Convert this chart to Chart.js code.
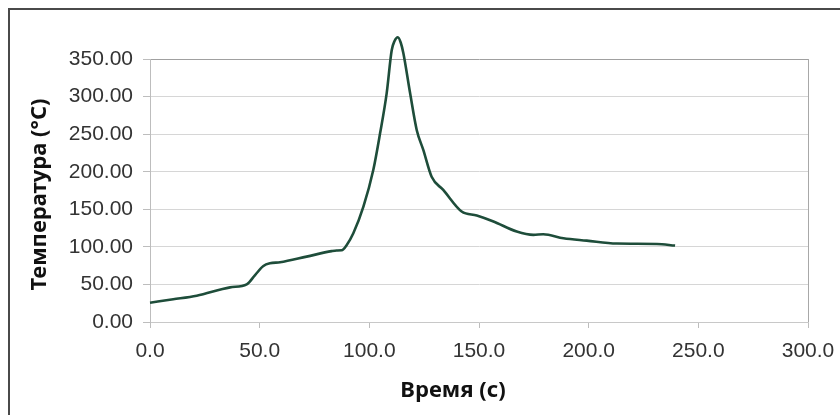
<!DOCTYPE html>
<html>
<head>
<meta charset="utf-8">
<script src="https://cdn.jsdelivr.net/npm/chart.js@4"></script>
<style>
  html, body { margin: 0; padding: 0; background: #fff; }
  #wrap { position: relative; width: 840px; height: 415px; overflow: hidden; }
  #frame {
    position: absolute; left: 8px; top: 8px; right: -10px; bottom: -10px;
    border-left: 2px solid #4a4a4a; border-top: 2px solid #4a4a4a;
    pointer-events: none;
  }
</style>
</head>
<body>
<div id="wrap">
  <canvas id="tempChart" width="840" height="415"></canvas>
  <div id="frame"></div>
</div>
<script>
// --- Data ---
const timeValues = [
  0, 10.6, 21.3, 36.5, 44.1, 47.9, 51.7, 54.7, 59.3, 71.4, 82.8, 85.1, 87.4,
  89.7, 92.7, 97.3, 101.8, 104.9, 107.9, 110.2, 111.5, 113.0, 114.3, 115.5,
  118.6, 121.6, 124.6, 128.4, 133.7, 142.1, 149.0, 156.6, 167.2, 174.8,
  179.3, 188.5, 199.1, 212.8, 231.1, 239.4
];
const tempValues = [
  25.7, 30.2, 35.0, 46.1, 50.1, 62.5, 74.5, 78.1, 79.4, 87.0, 94.3, 95.2, 95.4,
  102.5, 118.1, 153.5, 202.3, 251.1, 304.3, 361.6, 374, 379, 372, 358,
  304.3, 255.6, 229, 193.3, 175.7, 147, 141.7, 133.7, 120.4, 116,
  116.8, 111.5, 108.3, 104.4, 103.9, 101.7
];
const xTicks = [0, 50, 100, 150, 200, 250, 300];
const yTicks = [0, 50, 100, 150, 200, 250, 300, 350];

const xTitle = "Время (с)";
const yTitle = "Температура (°C)";

const TICK_FONT = { family: "'Liberation Sans', Arial, sans-serif", size: 21 };
const TITLE_FONT = { family: "'Noto Sans', sans-serif", size: 22, weight: "bold" };

// axis titles are placed a little off-centre in the original, so draw them here
const axisTitlePlugin = {
  id: "axisTitles",
  afterDraw(chart) {
    const { ctx, chartArea } = chart;
    ctx.save();
    ctx.font = `bold ${TITLE_FONT.size}px ${TITLE_FONT.family}`;
    ctx.fillStyle = "#111";
    ctx.textAlign = "center";

    ctx.textBaseline = "alphabetic";
    const cx = (chartArea.left + chartArea.right) / 2 - 26;
    ctx.fillText(xTitle, cx, 397);

    ctx.textBaseline = "middle";
    ctx.translate(40, (chartArea.top + chartArea.bottom) / 2 + 4);
    ctx.rotate(-Math.PI / 2);
    ctx.fillText(yTitle, 0, 0);
    ctx.restore();
  },
};

const points = timeValues.map((t, i) => ({ x: t, y: tempValues[i] }));

new Chart(document.getElementById("tempChart"), {
  type: "line",
  data: {
    datasets: [
      {
        data: points,
        borderColor: "#1e4d3a",
        borderWidth: 2.6,
        pointRadius: 0,
        cubicInterpolationMode: "monotone",
        clip: false,
      },
    ],
  },
  options: {
    responsive: false,
    animation: false,
    layout: { padding: { top: 59, right: 32, left: 0, bottom: 0 } },
    plugins: {
      legend: { display: false },
      tooltip: { enabled: false },
    },
    scales: {
      x: {
        type: "linear",
        min: 0,
        max: 300,
        afterBuildTicks(scale) {
          scale.ticks = xTicks.map((v) => ({ value: v }));
        },
        afterFit(scale) {
          scale.height = 93;
          scale.paddingLeft = 0;
          scale.paddingRight = 0;
        },
        ticks: {
          font: TICK_FONT,
          color: "#333",
          padding: 11,
          maxRotation: 0,
          callback: (v) => Number(v).toFixed(1),
        },
        grid: {
          color: (c) => (c.tick && c.tick.value === 300 ? "#a8a8a8" : "rgba(0,0,0,0)"),
          tickColor: "#bdbdbd",
          tickLength: 6,
          lineWidth: 1,
        },
        border: { color: "#c8c8c8", width: 1 },
      },
      y: {
        min: 0,
        max: 350,
        afterBuildTicks(scale) {
          scale.ticks = yTicks.map((v) => ({ value: v }));
        },
        afterFit(scale) {
          scale.width = 150;
        },
        ticks: {
          font: TICK_FONT,
          color: "#333",
          padding: 10,
          callback: (v) => Number(v).toFixed(2),
        },
        grid: {
          color: (c) => (c.tick && c.tick.value === 350 ? "#a0a0a0" : "#d6d6d6"),
          tickColor: "#bdbdbd",
          tickLength: 7,
          lineWidth: 1,
        },
        border: { color: "#bdbdbd", width: 1 },
      },
    },
  },
  plugins: [axisTitlePlugin],
});
</script>
</body>
</html>
